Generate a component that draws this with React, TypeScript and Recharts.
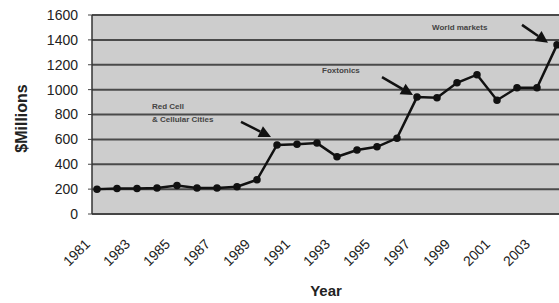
import React from 'react';
import { LineChart, Line, XAxis, YAxis, CartesianGrid, ReferenceDot } from 'recharts';

const years = [
  '1981', '1982', '1983', '1984', '1985', '1986', '1987', '1988', '1989', '1990', '1991', '1992',
  '1993', '1994', '1995', '1996', '1997', '1998', '1999', '2000', '2001', '2002', '2003', '2004',
];
const revenue = [
  200, 205, 205, 210, 230, 210, 210, 220, 275, 555, 560, 570,
  460, 515, 540, 610, 940, 935, 1055, 1120, 915, 1015, 1015, 1360,
];
const yTicks = [0, 200, 400, 600, 800, 1000, 1200, 1400, 1600];

const notes = [
  { year: '1990', lines: ['Red Cell', '& Cellular Cities'], text: [-125, -36], from: [-36, -23], to: [-6, -8] },
  { year: '1997', lines: ['Foxtonics'], text: [-95, -24], from: [-35, -20], to: [-4, -2] },
  { year: '2004', lines: ['World markets'], text: [-125, -15], from: [-35, -20], to: [-9, -2] },
];

const data = years.map((y, i) => ({ year: y, value: revenue[i] }));
const font = '"Liberation Sans", Arial, sans-serif';

const XTick = (props: any) => {
  const { x, y, payload } = props;
  const ax = x - 6;
  const ay = y + 31;
  return (
    <text x={ax} y={ay} transform={`rotate(-45, ${ax}, ${ay})`} textAnchor="end"
      fontSize={14} fontFamily={font} fill="#222">
      {payload.value}
    </text>
  );
};

const YTitle = (props: any) => {
  const vb = props.viewBox || { x: 0, y: 15, height: 199 };
  const cx = vb.x + 27;
  const cy = vb.y + vb.height / 2 + 4;
  return (
    <text x={cx} y={cy} transform={`rotate(-90, ${cx}, ${cy})`} textAnchor="middle"
      fontSize={16} fontWeight="bold" fontFamily={font} fill="#222">
      $Millions
    </text>
  );
};

const XTitle = (props: any) => {
  const vb = props.viewBox || { x: 92, y: 214 };
  return (
    <text x={vb.x + 234} y={vb.y + 82} textAnchor="middle"
      fontSize={15} fontWeight="bold" fontFamily={font} fill="#222">
      Year
    </text>
  );
};

const makeCallout = (note: any) => (props: any) => {
  const { cx, cy } = props;
  const fx = cx + note.from[0], fy = cy + note.from[1];
  const tx = cx + note.to[0], ty = cy + note.to[1];
  const dx = tx - fx, dy = ty - fy;
  const len = Math.sqrt(dx * dx + dy * dy);
  const ux = dx / len, uy = dy / len;
  const bx = tx - ux * 12, by = ty - uy * 12;
  const head = `${tx},${ty} ${bx - uy * 6},${by + ux * 6} ${bx + uy * 6},${by - ux * 6}`;
  return (
    <g>
      {note.lines.map((l: string, i: number) => (
        <text key={l} x={cx + note.text[0]} y={cy + note.text[1] + i * 13}
          fontSize={8} fontWeight="bold" fontFamily={font} fill="#444">
          {l}
        </text>
      ))}
      <line x1={fx} y1={fy} x2={bx} y2={by} stroke="#111" strokeWidth={2.5} />
      <polygon points={head} fill="#111" />
    </g>
  );
};

export default function App() {
  return (
    <div style={{ width: 559, height: 303, overflow: 'hidden', background: '#fff' }}>
      <style>{'body{margin:0}'}</style>
      <LineChart width={575} height={303} data={data} margin={{ top: 15, right: 0, bottom: 0, left: 0 }}>
        <CartesianGrid vertical={false} stroke="#4a4a4a" strokeWidth={2} fill="#cdcdcd" fillOpacity={1} />
        <XAxis dataKey="year" height={89} interval={1} tickSize={0} tickMargin={0}
          padding={{ left: 5, right: 18 }} tick={<XTick />}
          axisLine={{ stroke: '#444', strokeWidth: 1.5 }} label={<XTitle />} />
        <YAxis width={92} domain={[0, 1600]} ticks={yTicks} interval={0} tickSize={4} tickMargin={10}
          tick={{ fontSize: 14, fontFamily: font, fill: '#222' }}
          tickLine={{ stroke: '#444' }} axisLine={{ stroke: '#333', strokeWidth: 1.5 }} label={<YTitle />} />
        <Line type="linear" dataKey="value" stroke="#111" strokeWidth={2.5}
          dot={{ r: 2.5, fill: '#111', stroke: '#111' }} isAnimationActive={false} />
        {notes.map((n) => (
          <ReferenceDot key={n.year} x={n.year} y={revenue[years.indexOf(n.year)]}
            shape={makeCallout(n)} />
        ))}
      </LineChart>
    </div>
  );
}
